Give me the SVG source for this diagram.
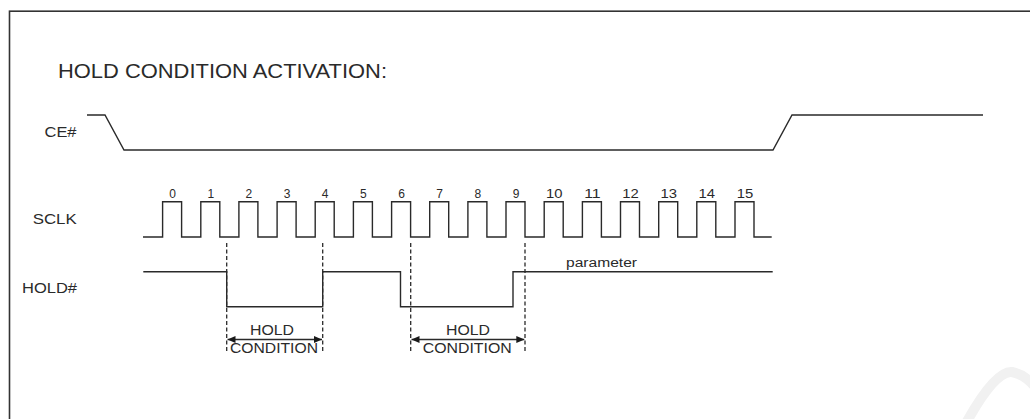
<svg xmlns="http://www.w3.org/2000/svg" width="1030" height="419" viewBox="0 0 1030 419">
<style>
.sig{fill:none;stroke:#2a2a2a;stroke-width:1.4;stroke-linejoin:miter}
.dash{fill:none;stroke:#2a2a2a;stroke-width:1.3;stroke-dasharray:4 2.5}
.arr{fill:none;stroke:#2a2a2a;stroke-width:1.4}
.t{font-family:"Liberation Sans",Arial,sans-serif;fill:#2a2a2a}
.lbl{font-size:14px}
.num{font-size:12px;text-anchor:middle}
</style>
<defs>
<marker id="ah" viewBox="0 0 8 7" refX="8" refY="3.5" markerWidth="8" markerHeight="7" markerUnits="userSpaceOnUse" orient="auto-start-reverse">
<path d="M0,0 L8,3.5 L0,7 z" fill="#1a1a1a"/>
</marker>
</defs>
<rect width="1030" height="419" fill="#ffffff"/>
<path d="M965,425 Q995,370 1012,372 Q1030,376 1040,395" fill="none" stroke="#f1f1f1" stroke-width="10"/>
<rect x="9.5" y="11.2" width="1040" height="430" fill="none" stroke="#333" stroke-width="1.6"/>
<g id="title"><text class="t" x="58" y="78.3" font-size="21" textLength="329" lengthAdjust="spacingAndGlyphs">HOLD CONDITION ACTIVATION:</text></g>
<g id="ce">
<text class="t lbl" x="44.5" y="137" textLength="32" lengthAdjust="spacingAndGlyphs">CE#</text>
<path class="sig" d="M87,115 L105,115 L124,150 L773,150 L792,115 L983,115"/>
</g>
<g id="sclk">
<text class="t lbl" x="32.7" y="224" textLength="44" lengthAdjust="spacingAndGlyphs">SCLK</text>
<path class="sig" d="M143,237 H162.6 V201.7 H181.6 V237 H200.8 V201.7 H219.8 V237 H238.9 V201.7 H257.9 V237 H277.1 V201.7 H296.1 V237 H315.2 V201.7 H334.2 V237 H353.4 V201.7 H372.4 V237 H391.6 V201.7 H410.6 V237 H429.7 V201.7 H448.7 V237 H467.9 V201.7 H486.9 V237 H506 V201.7 H525 V237 H544.2 V201.7 H563.2 V237 H582.4 V201.7 H601.4 V237 H620.5 V201.7 H639.5 V237 H658.7 V201.7 H677.7 V237 H696.8 V201.7 H715.8 V237 H735 V201.7 H754 V237 H771.7"/>
<g class="t num">
<text x="172.6" y="198.3">0</text>
<text x="210.8" y="198.3">1</text>
<text x="248.9" y="198.3">2</text>
<text x="287.1" y="198.3">3</text>
<text x="325.2" y="198.3">4</text>
<text x="363.4" y="198.3">5</text>
<text x="401.6" y="198.3">6</text>
<text x="439.7" y="198.3">7</text>
<text x="477.9" y="198.3">8</text>
<text x="516" y="198.3">9</text>
<text x="554.2" y="198.3" textLength="16.5" lengthAdjust="spacingAndGlyphs">10</text>
<text x="592.4" y="198.3" textLength="16.5" lengthAdjust="spacingAndGlyphs">11</text>
<text x="630.5" y="198.3" textLength="16.5" lengthAdjust="spacingAndGlyphs">12</text>
<text x="668.7" y="198.3" textLength="16.5" lengthAdjust="spacingAndGlyphs">13</text>
<text x="706.8" y="198.3" textLength="16.5" lengthAdjust="spacingAndGlyphs">14</text>
<text x="745" y="198.3" textLength="16.5" lengthAdjust="spacingAndGlyphs">15</text>
</g>
</g>
<g id="hold">
<text class="t lbl" x="22" y="292.7" textLength="55" lengthAdjust="spacingAndGlyphs">HOLD#</text>
<path class="sig" d="M143.3,271.7 H226.7 V306.7 H322.7 V271.7 H400.5 V306.7 H513 V271.7 H772.7"/>
<text class="t" x="566" y="266.5" font-size="12" textLength="71" lengthAdjust="spacingAndGlyphs">parameter</text>
</g>
<g id="hold-cond-1">
<text class="t lbl" x="250" y="335" textLength="44" lengthAdjust="spacingAndGlyphs">HOLD</text>
<text class="t lbl" x="230" y="353.3" textLength="88" lengthAdjust="spacingAndGlyphs">CONDITION</text>
</g>
<g id="hold-cond-2">
<text class="t lbl" x="446" y="335" textLength="44" lengthAdjust="spacingAndGlyphs">HOLD</text>
<text class="t lbl" x="422.7" y="353.3" textLength="89" lengthAdjust="spacingAndGlyphs">CONDITION</text>
</g>
<g id="connectors">
<line class="dash" x1="226.7" y1="243" x2="226.7" y2="353"/>
<line class="dash" x1="322.7" y1="243" x2="322.7" y2="353"/>
<line class="dash" x1="410.7" y1="243" x2="410.7" y2="353"/>
<line class="dash" x1="525" y1="243" x2="525" y2="353"/>
<line class="arr" x1="227.5" y1="339.5" x2="322" y2="339.5" marker-start="url(#ah)" marker-end="url(#ah)"/>
<line class="arr" x1="411.5" y1="339.5" x2="524.3" y2="339.5" marker-start="url(#ah)" marker-end="url(#ah)"/>
</g>
</svg>
